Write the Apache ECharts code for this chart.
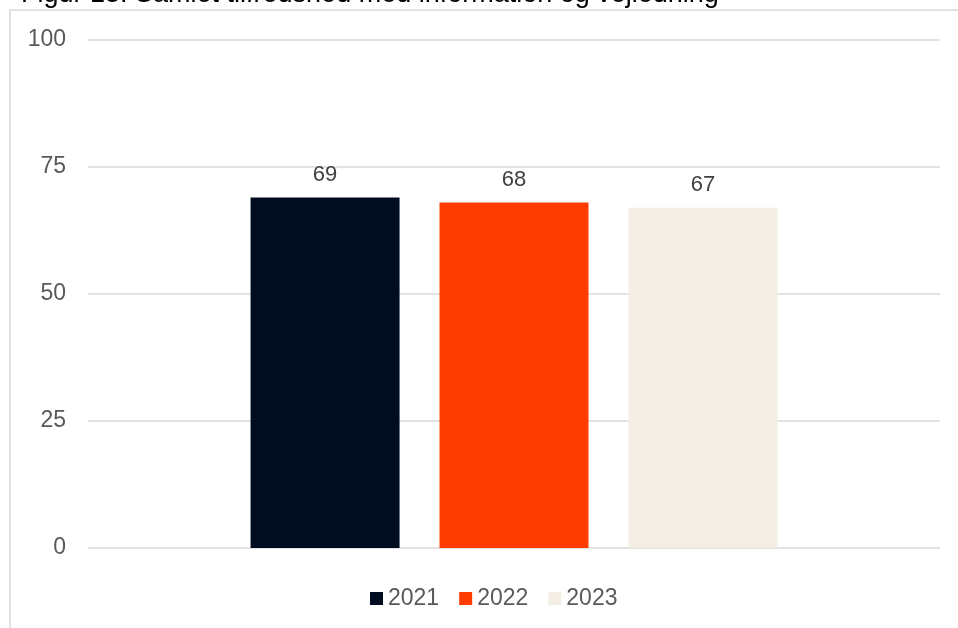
<!DOCTYPE html>
<html>
<head>
<meta charset="utf-8">
<script src="https://cdn.jsdelivr.net/npm/echarts@6/dist/echarts.min.js"></script>
<style>
  html, body { margin: 0; padding: 0; background: #fff; }
  #main { width: 958px; height: 628px; }
</style>
</head>
<body>
<div id="main"></div>
<script>
  // data
  const years = ['2021', '2022', '2023'];
  const values = [69, 68, 67];
  const colors = ['#000c1f', '#ff3c00', '#f2eee3'];
  const yTicks = [0, 25, 50, 75, 100];

  const FONT = 'Liberation Sans, Arial, sans-serif';

  const series = years.map(function (y, i) {
    return {
      name: y,
      type: 'bar',
      data: [values[i]],
      barWidth: 149,
      barGap: '26.8%',
      itemStyle: { color: colors[i] },
      label: {
        show: true,
        position: 'top',
        distance: 12,
        color: '#404040',
        fontSize: 22,
        fontFamily: FONT
      }
    };
  });

  const option = {
    animation: false,
    backgroundColor: '#fff',
    title: {
      text: 'Figur 13: Samlet tilfredshed med information og vejledning',
      left: 16,
      top: -24,
      textStyle: {
        color: '#000',
        fontSize: 27,
        fontWeight: 'normal',
        fontFamily: FONT
      }
    },
    graphic: [
      {
        type: 'polyline',
        shape: { points: [[10, 628], [10, 10], [958, 10]] },
        style: { stroke: '#d9d9d9', lineWidth: 1.5, fill: null },
        z: -1
      }
    ],
    legend: {
      bottom: 13,
      left: 365,
      itemWidth: 13,
      itemHeight: 13,
      itemGap: 20,
      icon: 'rect',
      textStyle: {
        color: '#595959',
        fontSize: 23,
        fontFamily: FONT
      },
      data: years
    },
    grid: {
      left: 88,
      right: 18,
      top: 40,
      bottom: 80,
      containLabel: false
    },
    xAxis: {
      type: 'category',
      data: [''],
      axisLine: { show: false },
      axisTick: { show: false },
      axisLabel: { show: false }
    },
    yAxis: {
      type: 'value',
      min: yTicks[0],
      max: yTicks[yTicks.length - 1],
      interval: 25,
      axisLine: { show: false },
      axisTick: { show: false },
      axisLabel: {
        margin: 22,
        color: '#595959',
        fontSize: 23,
        fontFamily: FONT
      },
      splitLine: { lineStyle: { color: '#d9d9d9', width: 1.5 } }
    },
    series: series
  };

  const chart = echarts.init(document.getElementById('main'));
  chart.setOption(option);
</script>
</body>
</html>
